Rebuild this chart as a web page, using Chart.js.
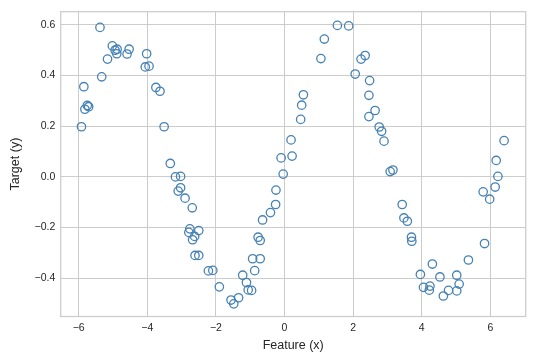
<!DOCTYPE html>
<html>
<head>
<meta charset="utf-8">
<script src="https://cdn.jsdelivr.net/npm/chart.js@4/dist/chart.umd.min.js"></script>
<style>
    body { margin: 0; background: #ffffff; }
</style>
</head>
<body>
<canvas id="chart" width="535" height="362"></canvas>
<script>
// values
const featureX = [
    -5.92, -5.85, -5.75, -5.71, -5.82, -5.38, -5.33, -5.16, -5.02, -4.94,
    -4.88, -4.89, -4.53, -4.59, -4.02, -4.06, -3.95, -3.75, -3.63, -3.51,
    -3.33, -3.18, -3.03, -3.03, -3.10, -2.90, -2.69, -2.76, -2.79, -2.50,
    -2.62, -2.68, -2.61, -2.50, -2.22, -2.09, -1.90, -1.56, -1.48, -1.34,
    -1.22, -1.11, -1.06, -0.96, -0.87, -0.93, -0.71, -0.77, -0.71, -0.64,
    -0.41, -0.26, -0.25, -0.04, -0.10, 0.22, 0.19, 0.47, 0.50, 0.55,
    1.06, 1.16, 1.54, 1.87, 2.06, 2.23, 2.35, 2.48, 2.46, 2.64,
    2.46, 2.76, 2.83, 2.90, 3.16, 3.08, 3.43, 3.48, 3.58, 3.70,
    3.71, 3.96, 4.05, 4.24, 4.22, 4.31, 4.53, 4.63, 4.78, 5.02,
    5.02, 5.09, 5.36, 5.83, 5.79, 5.98, 6.14, 6.22, 6.17, 6.40
];
const targetY = [
    0.198, 0.356, 0.282, 0.277, 0.267, 0.590, 0.395, 0.465, 0.517, 0.500,
    0.504, 0.486, 0.504, 0.485, 0.486, 0.434, 0.437, 0.353, 0.338, 0.198,
    0.053, 0.000, 0.002, -0.043, -0.056, -0.084, -0.122, -0.205, -0.219, -0.212,
    -0.235, -0.248, -0.310, -0.310, -0.371, -0.369, -0.434, -0.486, -0.501, -0.477,
    -0.388, -0.417, -0.446, -0.448, -0.370, -0.323, -0.323, -0.238, -0.251, -0.170,
    -0.141, -0.109, -0.052, 0.011, 0.075, 0.082, 0.146, 0.227, 0.283, 0.324,
    0.467, 0.544, 0.598, 0.596, 0.406, 0.465, 0.479, 0.380, 0.322, 0.262,
    0.238, 0.197, 0.180, 0.141, 0.027, 0.021, -0.109, -0.162, -0.175, -0.238,
    -0.254, -0.385, -0.436, -0.431, -0.447, -0.344, -0.395, -0.470, -0.448, -0.450,
    -0.388, -0.423, -0.328, -0.263, -0.059, -0.088, -0.040, 0.002, 0.065, 0.143
];
const xTicks = [-6, -4, -2, 0, 2, 4, 6];
const yTicks = [-0.4, -0.2, 0.0, 0.2, 0.4, 0.6];

const textColor = '#262626';
const gridColor = '#cccccc';

function minusSign(s) {
    return String(s).replace('-', '\u2212');
}

// light grey frame round the plot area, like the seaborn whitegrid spines
const frame = {
    id: 'frame',
    beforeDatasetsDraw(chart) {
        const a = chart.chartArea;
        const ctx = chart.ctx;
        ctx.save();
        ctx.strokeStyle = gridColor;
        ctx.lineWidth = 1.25;
        ctx.strokeRect(a.left, a.top, a.right - a.left, a.bottom - a.top);
        ctx.restore();
    }
};

const points = featureX.map((x, i) => ({ x: x, y: targetY[i] }));

new Chart(document.getElementById('chart').getContext('2d'), {
    type: 'scatter',
    data: {
        datasets: [{
            data: points,
            pointRadius: 4.2,
            pointHoverRadius: 4.2,
            borderWidth: 1.3,
            borderColor: '#4682b4',
            backgroundColor: 'rgba(0,0,0,0)'
        }]
    },
    plugins: [frame],
    options: {
        responsive: false,
        animation: false,
        devicePixelRatio: 1,
        layout: { padding: { left: 0, top: 9.3, right: 9.3, bottom: 0 } },
        plugins: {
            legend: { display: false },
            tooltip: { enabled: false }
        },
        scales: {
            x: {
                type: 'linear',
                min: -6.525,
                max: 7.03,
                afterBuildTicks: scale => { scale.ticks = xTicks.map(v => ({ value: v })); },
                afterFit: scale => { scale.height = 45.5; },
                grid: { color: gridColor, lineWidth: 1, drawTicks: false },
                border: { display: false },
                ticks: {
                    color: textColor,
                    padding: 5,
                    font: { family: '"Liberation Sans", Arial, sans-serif', size: 10.5 },
                    callback: v => minusSign(v)
                },
                title: {
                    display: true,
                    text: 'Feature (x)',
                    color: textColor,
                    font: { family: '"Liberation Sans", Arial, sans-serif', size: 12.5 },
                    padding: { top: 0, bottom: 8.5 }
                }
            },
            y: {
                type: 'linear',
                min: -0.551,
                max: 0.652,
                afterBuildTicks: scale => { scale.ticks = yTicks.map(v => ({ value: v })); },
                afterFit: scale => { scale.width = 60.7; },
                grid: { color: gridColor, lineWidth: 1, drawTicks: false },
                border: { display: false },
                ticks: {
                    color: textColor,
                    padding: 5.4,
                    font: { family: '"Liberation Sans", Arial, sans-serif', size: 10.5 },
                    callback: v => minusSign(Number(v).toFixed(1))
                },
                title: {
                    display: true,
                    text: 'Target (y)',
                    color: textColor,
                    font: { family: '"Liberation Sans", Arial, sans-serif', size: 12.5 },
                    padding: { top: 8.2, bottom: 0 }
                }
            }
        }
    }
});
</script>
</body>
</html>
